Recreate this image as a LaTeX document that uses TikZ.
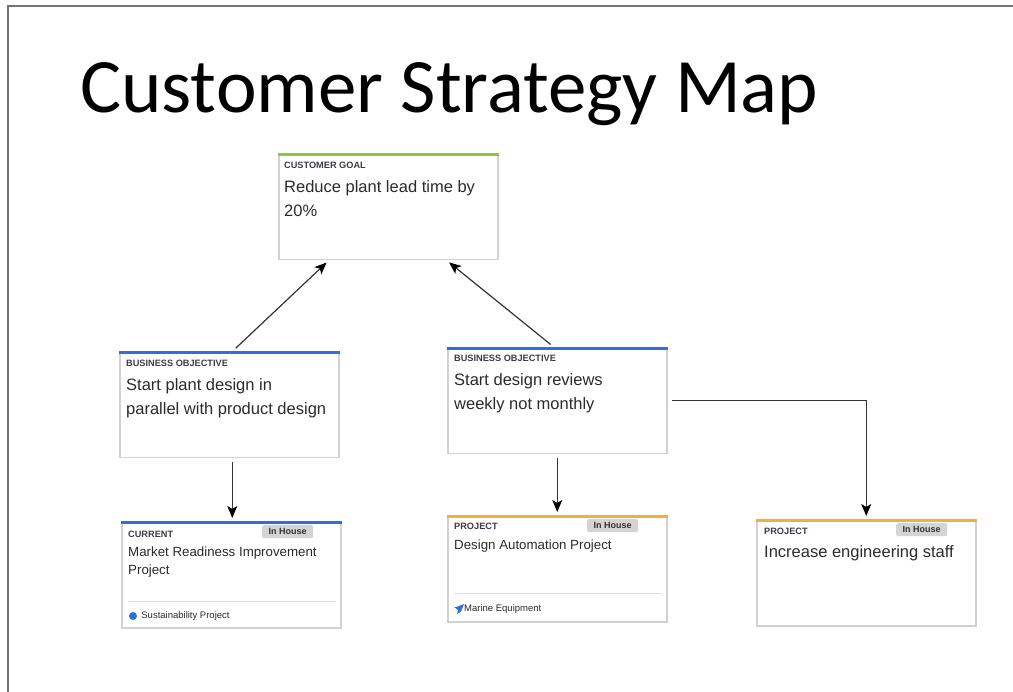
\documentclass[tikz,border=0pt]{standalone}
\usepackage{fontspec}
\setmainfont{Liberation Sans}
\newfontfamily\titlefont{Carlito}
\usetikzlibrary{positioning}
\usetikzlibrary{arrows.meta}
\definecolor{goalgreen}{HTML}{8DC63F}
\definecolor{objblue}{HTML}{2E6FD8}
\definecolor{projorange}{HTML}{F2B134}
\definecolor{inkgray}{HTML}{2B2B2B}
\definecolor{taggray}{HTML}{3C3C48}
\tikzset{x=1pt, y=-1pt,
    card/.style={
        draw=black!18,
        line width=1.5pt,
        fill=white,
        anchor=north west,
        minimum width=219pt,
        minimum height=106pt,
        inner sep=0pt},
    bar/.style={line width=3pt},
    tag/.style={
        inner sep=0pt,
        text=taggray,
        font=\bfseries\fontsize{9.2}{10}\selectfont},
    headline/.style={
        inner sep=0pt,
        align=left,
        text=inkgray,
        font=\fontsize{16.5}{24}\selectfont},
    smallline/.style={
        inner sep=0pt,
        align=left,
        text=inkgray,
        font=\fontsize{13.3}{18}\selectfont},
    badge/.style={
        fill=black!17,
        rounded corners=2pt,
        inner sep=0pt,
        minimum width=51pt,
        minimum height=13pt,
        text=black!80,
        font=\bfseries\fontsize{9}{10}\selectfont},
    rule/.style={draw=black!12, line width=1pt},
    foot/.style={
        inner sep=0pt,
        text=inkgray,
        font=\fontsize{9.5}{11}\selectfont},
    link/.style={
        draw=black!80,
        -{Stealth[length=12pt,width=10pt,inset=3pt,black]},
        line width=1.2pt,
        shorten <=4pt,
        shorten >=3pt}}

\begin{document}
\begin{tikzpicture}
    \useasboundingbox (0,0) rectangle (1013,692);
    \draw[black!55, line width=1.5pt] (8,692) -- (8,6) -- (1013,6);
    \node[anchor=base west, inner sep=0pt, font=\titlefont\fontsize{77}{80}\selectfont] (title) at (80,113) {Customer Strategy Map};

    % cards
    \node[card] (goal) at (278,153) {};
    \node[card] (obj1) at (119,351) {};
    \node[card] (obj2) at (447,347) {};
    \node[card] (proj1) at (121,521) {};
    \node[card] (proj2) at (447,515) {};
    \node[card] (proj3) at (756,519) {};

    \draw[bar, goalgreen] ([yshift=-1.5pt]goal.north west) -- ([yshift=-1.5pt]goal.north east);
    \draw[bar, objblue] ([yshift=-1.5pt]obj1.north west) -- ([yshift=-1.5pt]obj1.north east);
    \draw[bar, objblue] ([yshift=-1.5pt]obj2.north west) -- ([yshift=-1.5pt]obj2.north east);
    \draw[bar, objblue] ([yshift=-1.5pt]proj1.north west) -- ([yshift=-1.5pt]proj1.north east);
    \draw[bar, projorange] ([yshift=-1.5pt]proj2.north west) -- ([yshift=-1.5pt]proj2.north east);
    \draw[bar, projorange] ([yshift=-1.5pt]proj3.north west) -- ([yshift=-1.5pt]proj3.north east);

    % texts
    \node[tag, below right=9pt and 6pt of goal.north west] (goaltag) {CUSTOMER GOAL};
    \node[headline, below right=27pt and 6pt of goal.north west] (goaltext) {Reduce plant lead time by\\20\%};
    \node[tag, below right=9pt and 7pt of obj1.north west] (obj1tag) {BUSINESS OBJECTIVE};
    \node[headline, below right=27pt and 7pt of obj1.north west] (obj1text) {Start plant design in\\parallel with product design};
    \node[tag, below right=8pt and 7pt of obj2.north west] (obj2tag) {BUSINESS OBJECTIVE};
    \node[headline, below right=26pt and 7pt of obj2.north west] (obj2text) {Start design reviews\\weekly not monthly};

    \node[tag, below right=10pt and 7pt of proj1.north west] (proj1tag) {CURRENT};
    \node[badge, below right=4pt and 141pt of proj1.north west] (proj1badge) {In House};
    \node[smallline, below right=26pt and 7pt of proj1.north west] (proj1text) {Market Readiness Improvement\\Project};
    \draw[rule] ([xshift=7pt,yshift=-80pt]proj1.north west) -- ([xshift=-6pt,yshift=-80pt]proj1.north east);
    \node[circle, fill=objblue, inner sep=0pt, minimum size=8pt] (proj1icon) at ([xshift=12pt,yshift=-95pt]proj1.north west) {};
    \node[foot, right=4pt of proj1icon] (proj1foot) {Sustainability Project};

    \node[tag, below right=8pt and 7pt of proj2.north west] (proj2tag) {PROJECT};
    \node[badge, below right=4pt and 140pt of proj2.north west] (proj2badge) {In House};
    \node[smallline, below right=25pt and 7pt of proj2.north west] (proj2text) {Design Automation Project};
    \draw[rule] ([xshift=7pt,yshift=-79pt]proj2.north west) -- ([xshift=-6pt,yshift=-79pt]proj2.north east);
    \coordinate (proj2icon) at ([xshift=12pt,yshift=-94pt]proj2.north west);
    \fill[objblue] ([shift={(5pt,5pt)}]proj2icon) -- ([shift={(2pt,-2.5pt)}]proj2icon) -- ([shift={(-2pt,-5pt)}]proj2icon)
        -- ([shift={(-1pt,-1pt)}]proj2icon) -- ([shift={(-5pt,2pt)}]proj2icon) -- ([shift={(-2.5pt,2pt)}]proj2icon) -- cycle;
    \node[foot, right=5pt of proj2icon] (proj2foot) {Marine Equipment};

    \node[tag, below right=9pt and 8pt of proj3.north west] (proj3tag) {PROJECT};
    \node[badge, below right=4pt and 140pt of proj3.north west] (proj3badge) {In House};
    \node[headline, below right=26pt and 8pt of proj3.north west] (proj3text) {Increase engineering staff};

    % links
    \draw[link] ([xshift=3.5pt]obj1.north) -- ([xshift=-59.5pt]goal.south);
    \draw[link] ([xshift=-3.5pt]obj2.north) -- ([xshift=58.5pt]goal.south);
    \draw[link] ([xshift=3pt]obj1.south) -- ([xshift=3pt]obj1.south |- proj1.north);
    \draw[link] (obj2.south) -- (proj2.north);
    \draw[link] (obj2.east) -| (proj3.north);
\end{tikzpicture}
\end{document}
